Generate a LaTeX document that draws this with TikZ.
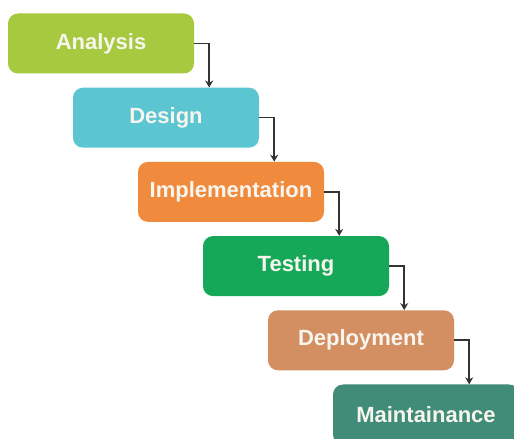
\documentclass[tikz,border=0pt]{standalone}
\usepackage{fontspec}
\setmainfont{Liberation Sans}
\usetikzlibrary{arrows.meta}
\definecolor{cana}{HTML}{A6C93F}
\definecolor{cdes}{HTML}{5BC5D2}
\definecolor{cimp}{HTML}{F08A3C}
\definecolor{ctst}{HTML}{14A858}
\definecolor{cdep}{HTML}{D38E62}
\definecolor{cmnt}{HTML}{418B79}
\definecolor{ctxt}{HTML}{F7F6EE}
\begin{document}
\begin{tikzpicture}[x=1pt,y=1pt,
  phase/.style={rounded corners=10pt, minimum width=186pt, minimum height=60pt,
    text=ctxt, font=\fontsize{22}{22}\selectfont\bfseries},
  flow/.style={draw=black!80, line width=1.6pt, -{Stealth[length=7pt,width=8pt]}}]
\clip (0,0) rectangle (514,439);
\fill[white] (0,0) rectangle (514,439);
\node[phase, fill=cana] (ph0) at (101,395.5){Analysis};
\node[phase, fill=cdes] (ph1) at (166,321.3){Design};
\node[phase, fill=cimp] (ph2) at (231,247.1){Implementation};
\node[phase, fill=ctst] (ph3) at (296,172.9){Testing};
\node[phase, fill=cdep] (ph4) at (361,98.7){Deployment};
\node[phase, fill=cmnt] (ph5) at (426,24.5){Maintainance};
\draw[flow](ph0.east) -| ([xshift=15pt]ph0.east |- ph1.north);
\draw[flow](ph1.east) -| ([xshift=15pt]ph1.east |- ph2.north);
\draw[flow](ph2.east) -| ([xshift=15pt]ph2.east |- ph3.north);
\draw[flow](ph3.east) -| ([xshift=15pt]ph3.east |- ph4.north);
\draw[flow](ph4.east) -| ([xshift=15pt]ph4.east |- ph5.north);

\end{tikzpicture}
\end{document}
